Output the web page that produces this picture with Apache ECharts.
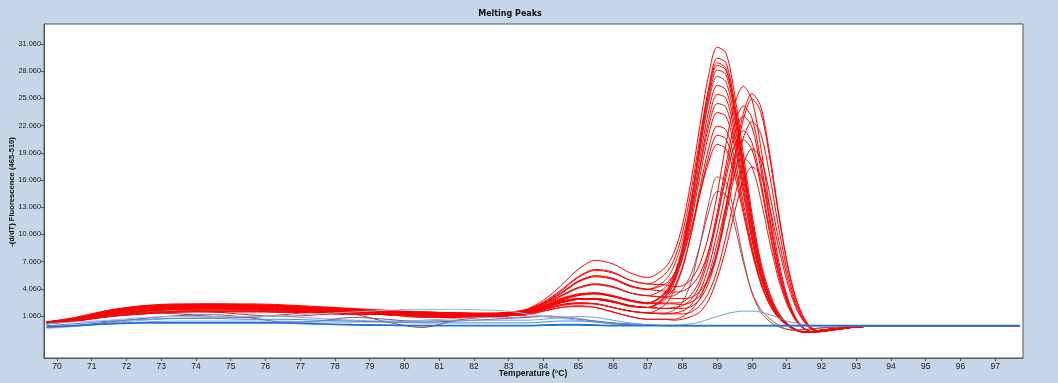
<!DOCTYPE html>
<html><head><meta charset="utf-8">
<script src="https://cdn.jsdelivr.net/npm/echarts@6/dist/echarts.min.js"></script>
<style>html,body{margin:0;padding:0;background:#c4d6e7;overflow:hidden}#c{width:1058px;height:383px}</style>
</head><body><div id="c"></div>
<script>
// ---- data ----
const temps = [69.7,70.5,71.5,72.5,73.5,74.5,75.5,76.5,77.5,78.5,79.5,80.5,81.5,82.5,83.0,
  83.5,84.0,84.5,85.0,85.5,86.0,86.5,87.0,
  87.5,87.75,88.0,88.25,88.5,88.75,89.0,89.25,89.5,89.75,90.0,90.25,90.5,90.75,91.0,91.25,
  91.5,91.75,92.0,92.5,93.0,93.5,94.0,95.0,96.0,97.7];
const xTicks = [70,71,72,73,74,75,76,77,78,79,80,81,82,83,84,85,86,87,88,89,90,91,92,93,94,95,96,97];
const yTicks = [1.06,4.06,7.06,10.06,13.06,16.06,19.06,22.06,25.06,28.06,31.06];

// red samples, peak near 89.1
const L1 = [0.4,0.8,1.6,2.1,2.3,2.3,2.3,2.2,2.0,1.8,1.6,1.5,1.4,1.4,1.5, 1.8,2.8,4.4,6.2,7.2,6.8,5.8,5.3,
  6.4,8.0,11.1,16.0,22.0,27.6,30.7,30.1,25.5,19.0,12.4,7.1,3.7,1.5,0.3,-0.4, -0.7,-0.65,-0.5,-0.3,-0.15,-0.05,0,0,0,0];
const L2 = [0.3,0.7,1.4,1.8,2.0,2.1,2.0,1.9,1.8,1.6,1.4,1.3,1.2,1.2,1.3, 1.4,2.0,2.6,2.95,2.9,2.6,2.2,2.0,
  3.3,5.1,8.5,13.7,20.1,26.1,29.5,29.0,24.6,18.1,11.6,6.5,3.2,1.2,0.2,-0.4, -0.7,-0.65,-0.5,-0.3,-0.15,-0.05,0,0,0,0];
const L3 = [0.3,0.6,1.2,1.6,1.8,1.9,1.8,1.7,1.6,1.5,1.3,1.2,1.1,1.2,1.4, 1.7,2.6,3.9,5.4,6.2,5.9,5.0,4.6,
  5.7,7.2,10.2,14.9,20.7,26.0,29.0,28.4,24.1,17.9,11.7,6.7,3.4,1.5,0.3,-0.4, -0.7,-0.65,-0.5,-0.3,-0.15,-0.05,0,0,0,0];
const L4 = [0.4,0.9,1.7,2.2,2.4,2.4,2.4,2.3,2.1,1.9,1.7,1.5,1.4,1.3,1.4, 1.5,2.1,2.9,3.4,3.6,3.3,2.8,2.5,
  3.7,5.5,8.7,13.7,19.8,25.5,28.7,28.2,24.0,17.7,11.4,6.4,3.2,1.3,0.2,-0.4, -0.7,-0.65,-0.5,-0.3,-0.15,-0.05,0,0,0,0];
const L5 = [0.2,0.5,1.0,1.3,1.5,1.6,1.6,1.5,1.5,1.4,1.2,1.1,1.0,1.0,1.1, 1.3,1.9,2.5,2.9,3.0,2.7,2.2,2.0,
  3.2,5.0,8.2,13.2,19.3,24.9,28.2,27.7,23.5,17.3,11.1,6.2,3.1,1.2,0.2,-0.4, -0.7,-0.65,-0.5,-0.3,-0.15,-0.05,0,0,0,0];
const L6 = [0.3,0.6,1.1,1.4,1.3,1.0,0.9,1.2,1.5,1.3,0.4,-0.2,0.6,1.0,1.2, 1.7,2.5,3.6,4.9,5.5,5.2,4.4,4.0,
  5.0,6.5,9.4,13.9,19.5,24.6,27.5,26.9,22.8,17.0,11.1,6.3,3.2,1.3,0.3,-0.5, -0.7,-0.65,-0.5,-0.3,-0.15,-0.05,0,0,0,0];
const L7 = [0.3,0.7,1.5,1.9,2.1,2.2,2.2,2.1,1.9,1.7,1.5,1.4,1.3,1.3,1.4, 1.5,2.2,3.0,3.5,3.6,3.2,2.7,2.5,
  3.6,5.2,8.1,12.7,18.4,23.6,26.5,26.0,22.1,16.4,10.6,6.0,3.0,1.2,0.2,-0.5, -0.7,-0.65,-0.5,-0.3,-0.15,-0.05,0,0,0,0];
const L8 = [0.3,0.6,1.3,1.7,1.9,2.0,1.9,1.8,1.7,1.5,1.4,1.3,1.2,1.2,1.3, 1.4,2.0,2.7,3.0,2.9,2.6,2.2,2.0,
  3.1,4.6,7.6,12.0,17.5,22.6,25.5,25.1,21.3,15.7,10.1,5.6,2.8,1.1,0.1,-0.4, -0.7,-0.65,-0.5,-0.3,-0.15,-0.05,0,0,0,0];
const L9 = [0.4,0.7,1.3,1.9,2.2,2.2,2.1,1.8,1.4,1.2,1.3,1.5,1.4,1.2,1.3, 1.6,2.3,3.3,4.2,4.6,4.3,3.6,3.3,
  4.2,5.6,8.2,12.3,17.3,21.9,24.5,24.1,20.5,15.2,9.8,5.6,2.8,1.1,0.1,-0.5, -0.7,-0.65,-0.5,-0.3,-0.15,-0.05,0,0,0,0];
const L10 = [0.4,0.8,1.6,2.0,2.2,2.3,2.2,2.1,2.0,1.8,1.6,1.4,1.3,1.3,1.4, 1.5,2.1,2.8,3.3,3.5,3.2,2.7,2.4,
  3.5,4.9,7.4,11.4,16.4,21.0,23.5,23.1,19.7,14.6,9.4,5.3,2.7,1.1,0.1,-0.5, -0.7,-0.65,-0.5,-0.3,-0.15,-0.05,0,0,0,0];
const L11 = [0.3,0.7,1.4,1.8,2.0,2.0,2.0,1.9,1.8,1.6,1.4,1.3,1.2,1.1,1.2, 1.3,1.8,2.3,2.5,2.4,2.0,1.6,1.4,
  2.3,3.8,6.3,10.2,15.1,19.5,22.0,21.6,18.4,13.6,8.7,4.9,2.4,0.9,0.1,-0.5, -0.7,-0.65,-0.5,-0.3,-0.15,-0.05,0,0,0,0];
const L12 = [0.2,0.5,1.1,1.4,1.6,1.7,1.7,1.6,1.5,1.4,1.3,1.1,1.0,1.1,1.2, 1.4,2.0,2.6,2.9,2.9,2.6,2.1,2.0,
  2.9,4.1,6.5,10.1,14.5,18.6,21.0,20.6,17.5,12.9,8.3,4.7,2.4,0.9,0.1,-0.5, -0.7,-0.65,-0.5,-0.3,-0.15,-0.05,0,0,0,0];
const L13 = [0.3,0.6,1.2,1.6,1.8,1.9,1.8,1.7,1.6,1.5,1.3,1.2,1.1,1.1,1.3, 1.6,2.4,3.5,4.8,5.4,5.1,4.3,4.0,
  4.6,5.6,7.6,10.7,14.5,18.0,20.0,19.5,16.6,12.4,8.1,4.7,2.4,1.0,0.2,-0.5, -0.7,-0.65,-0.5,-0.3,-0.15,-0.05,0,0,0,0];
const L14 = [0.3,0.7,1.3,1.7,1.9,2.0,1.9,1.8,1.7,1.5,1.3,1.2,1.1,1.1,1.2, 1.3,1.8,2.3,2.5,2.4,2.0,1.6,1.4,
  1.4,1.7,2.6,4.8,8.8,13.4,16.4,15.9,12.2,7.4,3.6,1.5,0.5,-0.1,-0.4,-0.5, -0.45,-0.35,-0.25,-0.15,-0.05,0,0,0,0,0];
const L15 = [0.2,0.5,1.0,1.3,1.5,1.6,1.6,1.5,1.4,1.3,1.2,1.0,1.0,1.0,1.1, 1.5,2.2,3.2,4.1,4.5,4.2,3.6,3.3,
  3.2,3.3,4.0,5.7,8.8,12.5,14.8,14.4,11.1,7.0,3.7,1.8,0.8,0.1,-0.4,-0.5, -0.45,-0.35,-0.25,-0.15,-0.05,0,0,0,0,0];
// red samples, peak near 89.8
const R1 = [0.4,0.8,1.6,2.1,2.3,2.4,2.3,2.2,2.0,1.8,1.6,1.4,1.3,1.3,1.4, 1.7,2.5,3.8,5.3,6.1,5.8,5.0,4.6,
  4.5,4.3,4.4,5.1,6.8,9.9,14.5,20.0,24.4,26.4,24.9,19.8,13.3,7.5,3.4,0.9, -0.3,-0.7,-0.65,-0.35,-0.15,-0.05,0,0,0,0];
const R2 = [0.3,0.6,1.2,1.6,1.8,1.9,1.9,1.8,1.7,1.5,1.3,1.2,1.1,1.1,1.2, 1.4,2.0,2.8,3.4,3.6,3.3,2.8,2.5,
  2.5,2.5,2.6,3.4,5.0,8.1,12.5,17.7,22.2,24.2,22.9,18.2,12.2,6.9,3.1,0.9, -0.3,-0.7,-0.65,-0.35,-0.15,-0.05,0,0,0,0];
const R3 = [0.3,0.7,1.4,1.8,2.0,2.0,2.1,2.0,1.8,1.6,1.5,1.3,1.2,1.2,1.3, 1.4,1.9,2.5,2.9,3.0,2.7,2.2,2.0,
  1.9,2.0,2.2,2.9,4.5,7.5,11.8,16.9,21.1,23.1,21.9,17.4,11.7,6.6,3.0,0.8, -0.3,-0.7,-0.65,-0.35,-0.15,-0.05,0,0,0,0];
const R4 = [0.4,0.8,1.5,2.0,2.2,2.2,2.2,2.1,1.9,1.7,1.5,1.4,1.3,1.3,1.4, 1.7,2.5,3.6,4.9,5.5,5.2,4.4,4.0,
  3.8,3.7,3.8,4.4,5.7,8.2,11.9,16.3,19.9,21.5,20.2,16.0,10.8,6.1,2.8,0.7, -0.3,-0.7,-0.65,-0.35,-0.15,-0.05,0,0,0,0];
const R5 = [0.2,0.5,1.0,1.4,1.6,1.6,1.6,1.5,1.5,1.4,1.2,1.1,1.0,1.0,1.1, 1.2,1.7,2.2,2.4,2.4,2.0,1.6,1.4,
  1.3,1.4,1.6,2.3,3.8,6.4,10.3,14.8,18.7,20.5,19.4,15.5,10.4,5.8,2.7,0.7, -0.3,-0.7,-0.65,-0.35,-0.15,-0.05,0,0,0,0];
const R6 = [0.3,0.6,1.1,1.5,1.6,1.5,1.2,1.0,1.2,1.4,1.2,0.9,0.9,1.0,1.1, 1.2,1.6,2.0,2.2,2.0,1.5,1.0,0.7,
  0.7,0.7,1.0,1.7,3.0,5.5,9.1,13.2,16.9,18.5,17.5,14.0,9.4,5.3,2.4,0.6, -0.4,-0.7,-0.65,-0.35,-0.15,-0.05,0,0,0,0];
// red samples, peak near 90.0
const R7 = [0.3,0.7,1.4,1.9,2.1,2.1,2.1,2.0,1.9,1.7,1.5,1.3,1.2,1.2,1.3, 1.5,2.1,2.9,3.4,3.5,3.2,2.8,2.5,
  2.4,2.4,2.3,2.6,3.3,5.2,8.3,13.1,18.6,23.4,25.6,24.2,19.2,12.9,7.2,3.2, 0.8,-0.35,-0.6,-0.4,-0.15,-0.05,0,0,0,0];
const R8 = [0.3,0.6,1.2,1.6,1.8,1.8,1.8,1.7,1.6,1.5,1.3,1.2,1.1,1.1,1.2, 1.4,2.0,2.6,2.9,2.9,2.6,2.2,2.0,
  1.9,1.9,1.9,2.1,2.9,4.7,7.9,12.6,18.1,22.7,25.0,23.6,18.8,12.6,7.1,3.1, 0.8,-0.35,-0.6,-0.4,-0.15,-0.05,0,0,0,0];
const R9 = [0.4,0.8,1.7,2.2,2.3,2.3,2.2,2.1,2.0,1.8,1.6,1.5,1.4,1.3,1.4, 1.6,2.3,3.3,4.2,4.6,4.3,3.6,3.3,
  3.1,3.0,3.0,3.1,3.8,5.2,7.9,12.1,16.7,20.7,22.5,21.2,16.8,11.2,6.3,2.7, 0.6,-0.4,-0.6,-0.4,-0.15,-0.05,0,0,0,0];
const R10 = [0.2,0.5,1.0,1.3,1.5,1.5,1.5,1.5,1.4,1.3,1.2,1.0,0.9,1.0,1.1, 1.3,1.8,2.3,2.5,2.4,2.0,1.6,1.4,
  1.3,1.3,1.3,1.5,2.2,3.6,6.1,9.8,14.1,17.8,19.5,18.5,14.7,9.8,5.6,2.4, 0.5,-0.45,-0.6,-0.4,-0.15,-0.05,0,0,0,0];
const R11 = [0.3,0.7,1.3,1.7,1.9,1.9,1.9,1.8,1.7,1.5,1.3,1.1,1.0,1.1,1.2, 1.2,1.6,2.0,2.1,2.0,1.5,1.0,0.7,
  0.7,0.6,0.7,1.0,1.5,2.8,5.2,8.5,12.5,15.9,17.5,16.6,13.2,8.9,5.0,2.1, 0.4,-0.5,-0.6,-0.4,-0.15,-0.05,0,0,0,0];

// blue / violet samples
const B1 = [-0.1,0.0,0.2,0.3,0.3,0.3,0.3,0.3,0.2,0.1,0.05,0.0,0.0,0.0,0.0, 0.0,0.05,0.1,0.1,0.05,0,0,0,
  0,0,0,0,0,0,0,0,0,0,0,0,0,0,0,0, 0,0,0,0,0,0,0,0,0,0];
const B2 = [0.0,0.2,0.5,0.7,0.8,0.8,0.7,0.7,0.6,0.5,0.4,0.3,0.3,0.3,0.3, 0.3,0.4,0.5,0.5,0.4,0.2,0.1,0.05,
  0,0,0,0,0,0,0,0,0,0,0,0,0,0,0,0, 0,0,0,0,0,0,0,0,0,0];
const B3 = [0.2,0.4,0.6,0.9,1.0,1.0,1.0,1.1,1.3,1.5,1.7,1.8,1.8,1.7,1.6, 1.3,1.0,0.8,0.6,0.4,0.2,0.1,0.05,
  0,0,0,0,0,0,0,0,0,0,0,0,0,0,0,0, 0,0,0,0,0,0,0,0,0,0];
const B4 = [-0.1,0.0,0.2,0.4,0.5,0.5,0.5,0.5,0.4,0.4,0.4,0.5,0.6,0.6,0.6, 0.6,0.7,0.9,1.0,0.9,0.6,0.3,0.1,
  0.05,0.05,0.1,0.2,0.4,0.7,1.0,1.3,1.5,1.6,1.6,1.5,1.2,0.9,0.5,0.3, 0.1,0.0,0,0,0,0,0,0,0,0];
const B5 = [-0.2,0.0,0.4,0.8,1.1,1.2,0.9,0.4,0.5,0.9,0.7,0.4,0.5,0.7,0.8, 0.9,1.0,0.9,0.7,0.5,0.3,0.2,0.1,
  0,0,0,0,0,0,0,0,0,0,0,0,0,0,0,0, 0,0,0,0,0,0,0,0,0,0];
const B6 = [-0.3,-0.1,0.3,0.6,0.8,0.9,1.0,1.0,0.8,0.6,0.5,0.6,0.8,0.9,0.9, 1.0,1.1,1.0,0.8,0.5,0.3,0.1,0.05,
  0,0,0,0,0,0,0,0,0,0,0,0,0,0,0,0, 0,0,0,0,0,0,0,0,0,0];

const redCurves = {L1,L2,L3,L4,L5,L6,L7,L8,L9,L10,L11,L12,L13,L14,L15,R1,R2,R3,R4,R5,R6,R7,R8,R9,R10,R11};
const blueCurves = {B6,B5,B3,B4,B2,B1};

// ---- styles ----
const redColor = {L6:'#b83232', L14:'#b04a4a', L15:'#b04a4a', R6:'#c82828', L9:'#d01818'};
const blueColor = {B1:'#1f72d6', B2:'#3b8ae0', B3:'#8fbbe3', B4:'#6fa3cf', B5:'#7459a8', B6:'#9e9ec8'};

function pairs(v){ return temps.map((t,i)=>[t, v[i]]).filter(p=>p[1]!==undefined); }
const series = [];
Object.keys(redCurves).forEach(k=>{
  series.push({type:'line', name:k, data:pairs(redCurves[k]), symbol:'none', smooth:0.3,
    lineStyle:{width:1, color: redColor[k] || '#ff0000'}, z:2});
});
Object.keys(blueCurves).forEach(k=>{
  series.push({type:'line', name:k, data:pairs(blueCurves[k]), symbol:'none', smooth:0.3,
    lineStyle:{width: k==='B1'?1.8:1, color: blueColor[k]}, z:3});
});

const lblFont = 'Liberation Sans, Arial, sans-serif';
const chart = echarts.init(document.getElementById('c'), null, {renderer:'canvas'});
chart.setOption({
  animation:false,
  backgroundColor:'#c4d6e7',
  grid:{left:44, right:35, top:24, bottom:25, show:true, backgroundColor:'#ffffff', borderColor:'#555', borderWidth:1},
  xAxis:{type:'value', min:69.626, max:97.8,
    axisLine:{show:true, onZero:false, lineStyle:{color:'#555'}},
    axisTick:{show:true, length:3, customValues:xTicks, lineStyle:{color:'#555'}},
    axisLabel:{customValues:xTicks, margin:4, fontFamily:lblFont, fontSize:8.5, color:'#222'},
    splitLine:{show:false}},
  yAxis:{type:'value', min:-3.57, max:33.27,
    axisLine:{show:true, onZero:false, lineStyle:{color:'#555'}},
    axisTick:{show:true, length:3, customValues:yTicks, lineStyle:{color:'#555'}},
    axisLabel:{customValues:yTicks, margin:3, formatter:v=>v.toFixed(3), fontFamily:lblFont, fontSize:7.4, color:'#222'},
    splitLine:{show:false}},
  graphic:[
    {type:'text', x:510, y:14, style:{text:'Melting Peaks', font:'bold 8px "DejaVu Sans"', fill:'#111', textAlign:'center', textVerticalAlign:'middle'}},
    {type:'text', x:533, y:374, style:{text:'Temperature (°C)', font:'bold 8.5px "Liberation Sans"', fill:'#111', textAlign:'center', textVerticalAlign:'middle'}},
    {type:'text', x:12, y:192, rotation:Math.PI/2, style:{text:'-(d/dT) Fluorescence (465-510)', font:'bold 7.6px "Liberation Sans"', fill:'#111', textAlign:'center', textVerticalAlign:'middle'}}
  ],
  series: series
});
</script>
</body></html>
